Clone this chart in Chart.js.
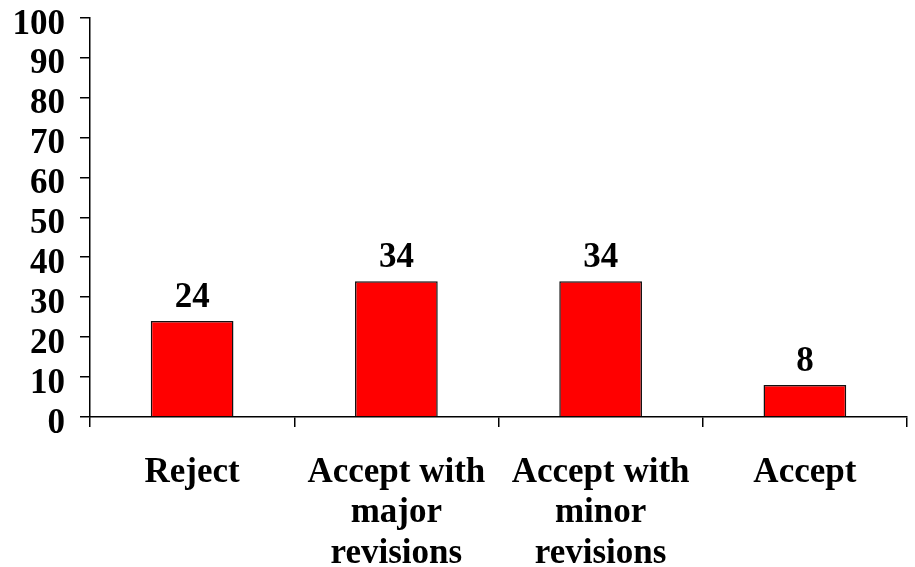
<!DOCTYPE html>
<html>
<head>
<meta charset="utf-8">
<title>Review decisions</title>
<script src="https://cdn.jsdelivr.net/npm/chart.js@4"></script>
<style>
  html, body { margin: 0; padding: 0; background: #fff; }
  #wrap { width: 915px; height: 567px; }
</style>
</head>
<body>
<div id="wrap"><canvas id="decisionChart" width="915" height="567"></canvas></div>
<script>
const categories = [
    "Reject",
    ["Accept with", "major", "revisions"],
    ["Accept with", "minor", "revisions"],
    "Accept"
];
const percentages = [24, 34, 34, 8];
const yTicks = [0, 10, 20, 30, 40, 50, 60, 70, 80, 90, 100];

const serif = "'Times New Roman', 'Liberation Serif', serif";

// writes the value above each bar
const valueLabels = {
    id: "valueLabels",
    afterDatasetsDraw(chart){
        const ctx = chart.ctx;
        const meta = chart.getDatasetMeta(0);
        ctx.save();
        ctx.font = "bold 35px " + serif;
        ctx.fillStyle = "#000";
        ctx.textAlign = "center";
        ctx.textBaseline = "alphabetic";
        meta.data.forEach((bar, i) => {
            ctx.fillText(String(percentages[i]), bar.x, bar.y - 14);
        });
        ctx.restore();
    }
};

new Chart(
    document.getElementById("decisionChart"),
    {
        type: "bar",
        data: {
            labels: categories,
            datasets: [{
                data: percentages,
                backgroundColor: "#FF0000",
                borderColor: "#111",
                borderWidth: 1.5,
                categoryPercentage: 1,
                barPercentage: 0.405
            }]
        },
        options: {
            responsive: false,
            animation: false,
            layout: { padding: { left: 0, right: 8, top: 17.5, bottom: 0 } },
            plugins: {
                legend: { display: false },
                tooltip: { enabled: false }
            },
            scales: {
                x: {
                    afterFit: s => {
                        s.height = 150;
                        s.paddingLeft = 0;
                        s.paddingRight = 0;
                    },
                    grid: {
                        offset: true,
                        drawOnChartArea: false,
                        tickLength: 10,
                        color: "#000",
                        lineWidth: 1.5
                    },
                    border: { display: true, color: "#000", width: 1.5 },
                    ticks: {
                        color: "#000",
                        padding: 25,
                        maxRotation: 0,
                        autoSkip: false,
                        font: { family: serif, size: 35, weight: "bold", lineHeight: 1.17 }
                    }
                },
                y: {
                    min: 0,
                    max: 100,
                    afterFit: s => {
                        s.width = 90;
                        s.paddingTop = 0;
                        s.paddingBottom = 0;
                    },
                    afterBuildTicks: s => { s.ticks = yTicks.map(v => ({ value: v })); },
                    grid: {
                        drawOnChartArea: false,
                        tickLength: 10,
                        color: "#000",
                        lineWidth: 1.5
                    },
                    border: { display: true, color: "#000", width: 1.5 },
                    ticks: {
                        color: "#000",
                        padding: 15,
                        labelOffset: 7,
                        autoSkip: false,
                        font: { family: serif, size: 35, weight: "bold" }
                    }
                }
            }
        },
        plugins: [valueLabels]
    }
);
</script>
</body>
</html>
